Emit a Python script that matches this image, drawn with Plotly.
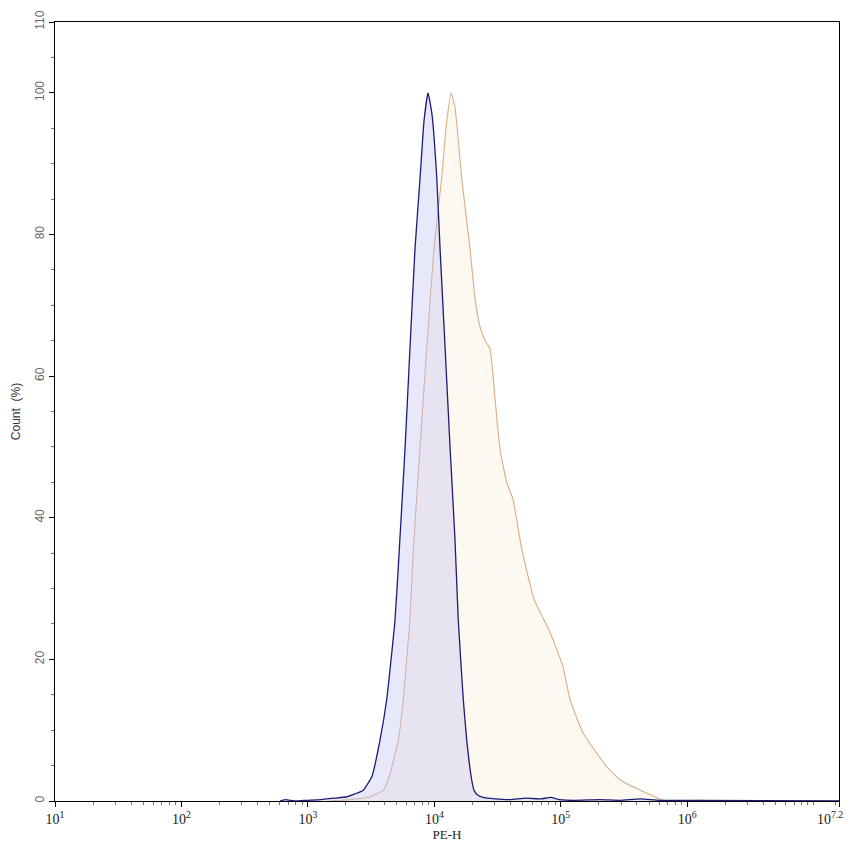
import plotly.graph_objects as go

# log10(PE-H) positions and Count (%) values
blue_log = [2.78, 2.82, 2.90, 2.99, 3.10, 3.21, 3.309, 3.372, 3.436, 3.475, 3.507, 3.570,
            3.623, 3.689, 3.723, 3.768, 3.807, 3.847, 3.887, 3.918, 3.950, 3.981, 4.019,
            4.045, 4.085, 4.124, 4.163, 4.189, 4.229, 4.256, 4.295, 4.314, 4.345, 4.385,
            4.48, 4.60, 4.72, 4.84, 4.92, 4.99, 5.11, 5.31, 5.47, 5.63, 5.78, 6.10, 7.20]
blue_val = [0.0, 0.2, 0.0, 0.1, 0.2, 0.4, 0.6, 1.0, 1.5, 2.5, 3.5, 8.6,
            14.3, 25.6, 35.6, 49.7, 63.9, 78.0, 88.0, 96.0, 100.0, 97.0, 88.0,
            78.0, 64.0, 50.0, 37.0, 25.6, 14.3, 8.6, 3.0, 1.5, 0.8, 0.5,
            0.3, 0.2, 0.4, 0.3, 0.5, 0.2, 0.1, 0.2, 0.1, 0.3, 0.1, 0.1, 0.0]

orange_log = [3.175, 3.333, 3.491, 3.594, 3.636, 3.715, 3.754, 3.807, 3.834, 3.887, 3.940,
              3.997, 4.058, 4.092, 4.132, 4.163, 4.216, 4.282, 4.321, 4.361, 4.401, 4.440,
              4.480, 4.519, 4.572, 4.622, 4.691, 4.788, 4.915, 5.017, 5.073, 5.176, 5.365,
              5.468, 5.571, 5.682, 5.808, 5.943, 6.10, 6.26, 7.20]
orange_val = [0.0, 0.2, 0.6, 1.5, 3.0, 8.6, 14.3, 25.6, 35.6, 50.0, 64.0,
              78.0, 88.0, 95.0, 100.0, 98.0, 88.0, 78.0, 71.0, 67.0, 65.0, 63.9,
              56.8, 49.7, 45.0, 42.6, 35.6, 28.5, 23.8, 19.0, 14.3, 9.6, 4.8,
              3.0, 2.0, 1.1, 0.1, 0.0, 0.1, 0.0, 0.0]

x_tick_exp = [1, 2, 3, 4, 5, 6, 7.2]
x_tick_text = ["10<sup>1</sup>", "10<sup>2</sup>", "10<sup>3</sup>", "10<sup>4</sup>",
               "10<sup>5</sup>", "10<sup>6</sup>", "10<sup>7.2</sup>"]
y_ticks = [0, 20, 40, 60, 80, 100, 110]

minor_x = [m * 10 ** d for d in range(1, 7) for m in range(2, 10) if m * 10 ** d < 10 ** 7.2]
minor_x += [10 ** 7, 1.5e7]

fig = go.Figure()
fig.add_trace(go.Scatter(
    x=[10 ** v for v in orange_log], y=orange_val, mode="lines",
    line=dict(color="#d9ae86", width=1.1, shape="spline", smoothing=0.4), fill="tozeroy",
    fillcolor="rgba(250,232,205,0.3)", showlegend=False))
fig.add_trace(go.Scatter(
    x=[10 ** v for v in blue_log], y=blue_val, mode="lines",
    line=dict(color="#1c1c78", width=1.3, shape="spline", smoothing=0.4), fill="tozeroy",
    fillcolor="rgba(190,190,245,0.36)", showlegend=False))

serif = "Liberation Serif, Times New Roman, serif"
sans = "Liberation Sans, Arial, sans-serif"

# last tick label is drawn as an annotation so it stays inside the page
fig.add_annotation(x=x_tick_exp[-1], xref="x", y=0, yref="paper", yanchor="top",
                   xanchor="right", xshift=6, yshift=-6, showarrow=False,
                   text=x_tick_text[-1], font=dict(family=serif, size=14, color="#222"))

fig.update_layout(
    width=837, height=840,
    margin=dict(l=47, r=6, t=14, b=47),
    paper_bgcolor="white", plot_bgcolor="white",
    font=dict(family=serif, size=13, color="#222"),
    xaxis=dict(type="log", range=[1, 7.2], tickvals=[10 ** e for e in x_tick_exp],
               ticktext=x_tick_text[:-1] + [""], ticks="outside", ticklen=5, tickcolor="black",
               showline=True, linecolor="black", linewidth=1, mirror=True,
               showgrid=False, zeroline=False, automargin=False,
               minor=dict(tickvals=minor_x, ticks="outside", ticklen=3, tickcolor="#777", showgrid=False),
               title=dict(text="PE-H", font=dict(family=serif, size=13, color="#222"), standoff=4),
               tickfont=dict(family=serif, size=14, color="#222")),
    yaxis=dict(range=[0, 110], tickvals=y_ticks, ticks="outside", ticklen=5, tickcolor="black",
               tickangle=-90, showline=True, linecolor="black", linewidth=1, mirror=True,
               showgrid=False, zeroline=False, automargin=False,
               minor=dict(dtick=5, ticks="outside", ticklen=3, tickcolor="#777", showgrid=False),
               title=dict(text="Count  (%)", font=dict(family=sans, size=12, color="#333"), standoff=10),
               tickfont=dict(family=sans, size=12, color="#666")),
)
fig.write_html("out.html")
